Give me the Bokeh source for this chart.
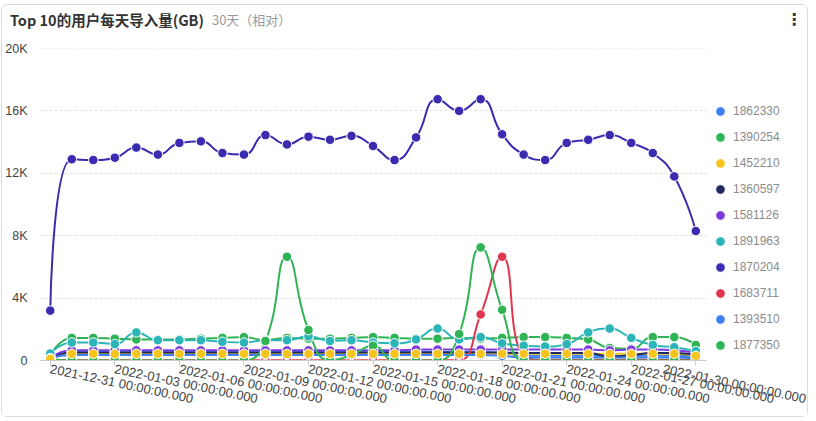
import math
from bokeh.plotting import figure
from bokeh.layouts import column
from bokeh.models import Range1d, FixedTicker, Legend, LegendItem, ColumnDataSource, Div
from bokeh.embed import file_html
from bokeh.resources import INLINE

# ---------------- data ----------------
title_text = "Top 10的用户每天导入量(GB)"
subtitle_text = "30天（相对）"
dates = ["2021-12-31", "2022-01-01", "2022-01-02", "2022-01-03", "2022-01-04", "2022-01-05",
         "2022-01-06", "2022-01-07", "2022-01-08", "2022-01-09", "2022-01-10", "2022-01-11",
         "2022-01-12", "2022-01-13", "2022-01-14", "2022-01-15", "2022-01-16", "2022-01-17",
         "2022-01-18", "2022-01-19", "2022-01-20", "2022-01-21", "2022-01-22", "2022-01-23",
         "2022-01-24", "2022-01-25", "2022-01-26", "2022-01-27", "2022-01-28", "2022-01-29",
         "2022-01-30"]
x_tick_idx = [0, 3, 6, 9, 12, 15, 18, 21, 24, 27, 30]
y_ticks = [0, 4000, 8000, 12000, 16000, 20000]
y_tick_labels = ["0", "4K", "8K", "12K", "16K", "20K"]

names = ["1862330", "1390254", "1452210", "1360597", "1581126",
         "1891963", "1870204", "1683711", "1393510", "1877350"]
colors = ["#3d7ff5", "#2fb455", "#f5c41d", "#1f2a5e", "#7b3ae0",
          "#2bb5b8", "#3a2bb0", "#e0364f", "#3d7ff5", "#2fb455"]

s1 = [200, 550, 550, 560, 550, 550, 550, 550, 560, 550, 550, 550, 560, 550, 550, 550,
      550, 560, 550, 550, 550, 500, 300, 300, 320, 300, 300, 300, 320, 300, 250]
s2 = [350, 1450, 1450, 1400, 1350, 1350, 1350, 1400, 1450, 1500, 1300, 1450, 1400, 1400, 1450, 1500,
      1450, 1400, 1400, 1450, 1400, 1450, 1500, 1500, 1450, 1350, 800, 750, 1500, 1500, 1000]
s3 = [100, 430, 430, 420, 430, 430, 430, 430, 430, 430, 430, 420, 430, 430, 430, 430,
      430, 430, 430, 430, 420, 430, 430, 430, 430, 430, 420, 430, 430, 430, 300]
s4 = [150, 520, 520, 520, 520, 520, 520, 520, 520, 520, 520, 520, 520, 520, 520, 520,
      520, 520, 520, 520, 520, 500, 480, 480, 480, 480, 250, 350, 480, 480, 350]
s5 = [200, 650, 650, 650, 650, 650, 650, 650, 650, 650, 650, 650, 650, 650, 650, 650,
      650, 700, 700, 700, 700, 700, 700, 700, 700, 700, 650, 700, 700, 650, 500]
s6 = [450, 1150, 1150, 1050, 1800, 1300, 1300, 1300, 1200, 1150, 1300, 1300, 1550, 1250, 1300, 1150,
      1100, 1350, 2050, 1350, 1500, 1100, 950, 900, 1050, 1800, 2050, 1450, 1000, 850, 600]
s7 = [3200, 12900, 12850, 13000, 13650, 13200, 13950, 14050, 13300, 13200, 14450, 13850, 14350, 14150, 14400, 13750,
      12850, 14300, 16750, 16000, 16750, 14500, 13200, 12850, 13950, 14150, 14450, 13950, 13300, 11800, 8300]
s8 = [50, 20, 20, 20, 20, 20, 20, 20, 20, 20, 20, 20, 20, 20, 20, 20,
      20, 20, 20, 20, 2950, 6650, 300, 50, 50, 50, 50, 50, 50, 50, 50]
s9 = [150, 350, 350, 350, 350, 350, 350, 350, 350, 350, 350, 350, 350, 350, 350, 350,
      350, 350, 350, 350, 350, 300, 200, 200, 200, 200, 200, 200, 200, 200, 150]
s10 = [100, 0, 0, 0, 0, 0, 0, 0, 0, 0, 1250, 6650, 1950, 0, 350, 950,
       0, 0, 0, 1700, 7250, 3250, 0, 0, 0, 0, 0, 0, 0, 0, 0]
series = [s1, s2, s3, s4, s5, s6, s7, s8, s9, s10]

# ---------------- styling constants ----------------
FONT = "Liberation Sans"
CJK = "Noto Sans CJK SC"
X_PX = 21.55            # approx px per day (for curve smoothing in screen space)
Y_PX = 312.0 / 20000.0  # approx px per unit
X_LO, X_HI = -0.5, 30.5   # extent of the data area
X_VIEW_HI = 35.19         # frame extended to the right to host the legend


def smooth_segments(xs, ys, smooth=0.5):
    px = [x * X_PX for x in xs]
    py = [y * Y_PX for y in ys]
    n = len(px)
    out = {k: [] for k in ("x0", "y0", "x1", "y1", "cx0", "cy0", "cx1", "cy1")}
    cpx0, cpy0 = px[0], py[0]
    for k in range(1, n):
        x, y = px[k], py[k]
        prevX, prevY = px[k - 1], py[k - 1]
        if k == n - 1:
            cpx1, cpy1 = x, y
            nx0, ny0 = x, y
        else:
            nextX, nextY = px[k + 1], py[k + 1]
            vx, vy = nextX - prevX, nextY - prevY
            lp = math.hypot(x - prevX, y - prevY)
            ln = math.hypot(nextX - x, nextY - y)
            ratio = ln / (ln + lp)
            nx0 = x + vx * smooth * ratio
            ny0 = y + vy * smooth * ratio
            nx0 = min(nx0, max(nextX, x)); nx0 = max(nx0, min(nextX, x))
            ny0 = min(ny0, max(nextY, y)); ny0 = max(ny0, min(nextY, y))
            vx, vy = nx0 - x, ny0 - y
            cpx1 = x - vx * lp / ln
            cpy1 = y - vy * lp / ln
            cpx1 = min(cpx1, max(prevX, x)); cpx1 = max(cpx1, min(prevX, x))
            cpy1 = min(cpy1, max(prevY, y)); cpy1 = max(cpy1, min(prevY, y))
            vx, vy = x - cpx1, y - cpy1
            nx0 = x + vx * ln / lp
            ny0 = y + vy * ln / lp
        out["x0"].append(prevX / X_PX); out["y0"].append(prevY / Y_PX)
        out["x1"].append(x / X_PX); out["y1"].append(y / Y_PX)
        out["cx0"].append(cpx0 / X_PX); out["cy0"].append(cpy0 / Y_PX)
        out["cx1"].append(cpx1 / X_PX); out["cy1"].append(cpy1 / Y_PX)
        cpx0, cpy0 = nx0, ny0
    return out


header = Div(
    text=('<div style="display:flex;align-items:center;width:805px;height:30px;box-sizing:border-box;'
          'padding-left:8px;padding-right:5px;white-space:nowrap">'
          f'<span style="font-family:\'{CJK}\';font-weight:bold;font-size:14.5px;color:#333">{title_text}</span>'
          f'<span style="font-family:\'{CJK}\';font-size:13px;color:#9a9a9a;margin-left:8px">{subtitle_text}</span>'
          '<span style="margin-left:auto;font-family:\'DejaVu Sans\';font-weight:bold;'
          'font-size:16px;color:#333">&#8942;</span></div>'),
    width=805, height=30, margin=0)

p = figure(width=805, height=381, output_backend="svg", toolbar_location=None,
           x_range=Range1d(X_LO, X_VIEW_HI), y_range=Range1d(0, 20001),
           min_border_left=36, min_border_right=0, min_border_top=13, min_border_bottom=56,
           margin=0)
p.outline_line_color = None
p.background_fill_color = "white"
p.border_fill_color = "white"

# axes
p.xaxis.ticker = FixedTicker(ticks=x_tick_idx)
p.xaxis.bounds = (X_LO, X_HI)
p.xaxis.major_label_overrides = {i: dates[i] + " 00:00:00.000" for i in x_tick_idx}
p.xaxis.major_label_orientation = -0.21
p.xaxis.axis_line_color = "#cccccc"
p.xaxis.major_tick_line_color = "#cccccc"
p.xaxis.major_tick_out = 5
p.xaxis.major_tick_in = 0
p.xaxis.minor_tick_line_color = None
p.xaxis.major_label_text_font = FONT
p.xaxis.major_label_text_font_size = "13px"
p.xaxis.major_label_text_color = "#444444"
p.xaxis.major_label_standoff = 3

p.yaxis.ticker = FixedTicker(ticks=y_ticks)
p.yaxis.major_label_overrides = dict(zip(y_ticks, y_tick_labels))
p.yaxis.axis_line_color = None
p.yaxis.major_tick_line_color = None
p.yaxis.minor_tick_line_color = None
p.yaxis.major_label_text_font = FONT
p.yaxis.major_label_text_font_size = "12.5px"
p.yaxis.major_label_text_color = "#444444"
p.yaxis.major_label_standoff = 6

p.xgrid.grid_line_color = None
ygrid = p.ygrid[0]
if "cross_bounds" in ygrid.properties():
    ygrid.cross_bounds = (X_LO, X_HI)
    ygrid.grid_line_color = "#e2e2e2"
    ygrid.grid_line_dash = "3 2"
else:
    ygrid.grid_line_color = None
    p.segment(x0=X_LO, x1=X_HI, y0=y_ticks[1:], y1=y_ticks[1:],
              line_color="#e2e2e2", line_dash="3 2", line_width=1)

xs = list(range(len(dates)))
for vals, col in zip(series, colors):
    seg = smooth_segments(xs, vals)
    p.bezier(x0="x0", y0="y0", x1="x1", y1="y1", cx0="cx0", cy0="cy0", cx1="cx1", cy1="cy1",
             source=ColumnDataSource(seg), line_color=col, line_width=2)
draw_order = [0, 1, 3, 4, 5, 6, 7, 8, 9, 2]
rend = {}
for i in draw_order:
    rend[i] = p.scatter(xs, series[i], size=9.5, fill_color=colors[i], line_color="white", line_width=1)

items = [LegendItem(label=names[i], renderers=[rend[i]]) for i in range(len(series))]
legend = Legend(items=items, location=(669, 3), orientation="vertical",
                glyph_width=24, glyph_height=24, label_height=24, spacing=2,
                padding=3, margin=0, label_standoff=1,
                label_text_font=FONT, label_text_font_size="12px", label_text_color="#8c8c8c",
                border_line_color=None, background_fill_alpha=0)
p.add_layout(legend)

layout = column(header, p, spacing=0,
                styles={"border": "1px solid #dcdcdc", "border-radius": "6px",
                        "margin-left": "1px", "margin-top": "4px"})

open("out.html", "w").write(file_html(layout, INLINE))
